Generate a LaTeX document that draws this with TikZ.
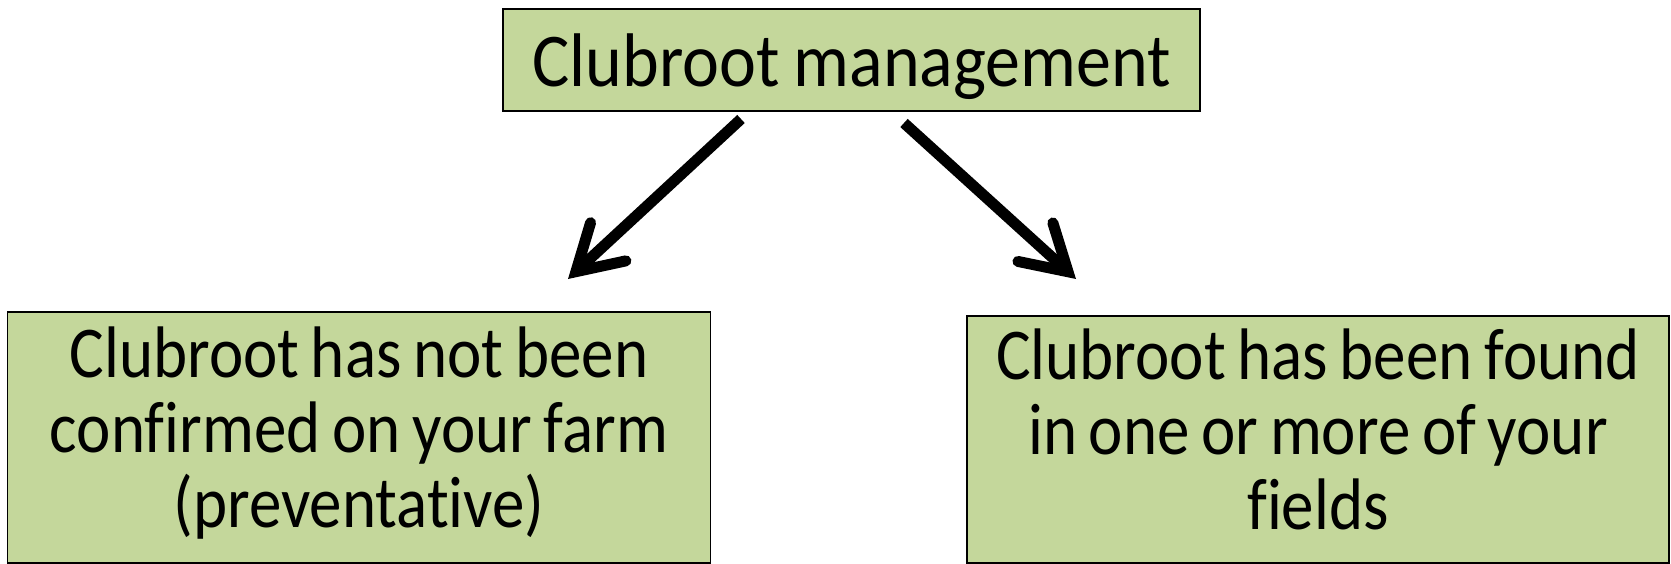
\documentclass[tikz,border=0pt]{standalone}
\usepackage{fontspec}
\setmainfont{Carlito}[Ligatures={NoCommon}]
\newfontfamily\topfont{Carlito}[Ligatures={NoCommon},FakeStretch=0.92,WordSpace=0.9]
\newfontfamily\boxfont{Carlito}[Ligatures={NoCommon},FakeStretch=0.89,WordSpace=0.8]
\usetikzlibrary{arrows.meta}
\definecolor{boxgreen}{HTML}{C4D79B}
\newcommand{\threelines}[4]{\raisebox{#1}{\begin{tabular}{@{}c@{}}#2\\#3\\#4\end{tabular}}}
\tikzset{
  gbox/.style={draw=black, line width=1.5pt, fill=boxgreen, rectangle, inner sep=0pt, align=center,
    font=\boxfont\fontsize{73}{75}\selectfont},
  bigarrow/.style={line width=11pt, -{Straight Barb[length=44pt,width=52pt,line cap=round,line join=miter]}}
}
\begin{document}
\begin{tikzpicture}[x=1pt,y=-1pt]
\useasboundingbox (0,0) rectangle (1671,564);
\node[gbox, minimum width=697pt, minimum height=102pt, text height=77pt, text depth=23pt,
  font=\topfont\fontsize{76}{80}\selectfont] (top) at (851.5,60) {Clubroot management};
\node[gbox, minimum width=703pt, minimum height=251pt] (left) at (359,437.5)
  {\threelines{-11.5pt}{Clubroot has not been}{confirmed on your farm}{(preventative)}};
\node[gbox, minimum width=702pt, minimum height=247pt] (right) at (1318,439.5)
  {\threelines{-9.5pt}{Clubroot has been found}{in one or more of your}{fields}};
\coordinate (ls) at (741,119);
\coordinate (le) at (568,279);
\coordinate (rs) at (904,123);
\coordinate (re) at (1076,279);
\draw[bigarrow] (ls) -- (le);
\draw[bigarrow] (rs) -- (re);
\end{tikzpicture}
\end{document}
